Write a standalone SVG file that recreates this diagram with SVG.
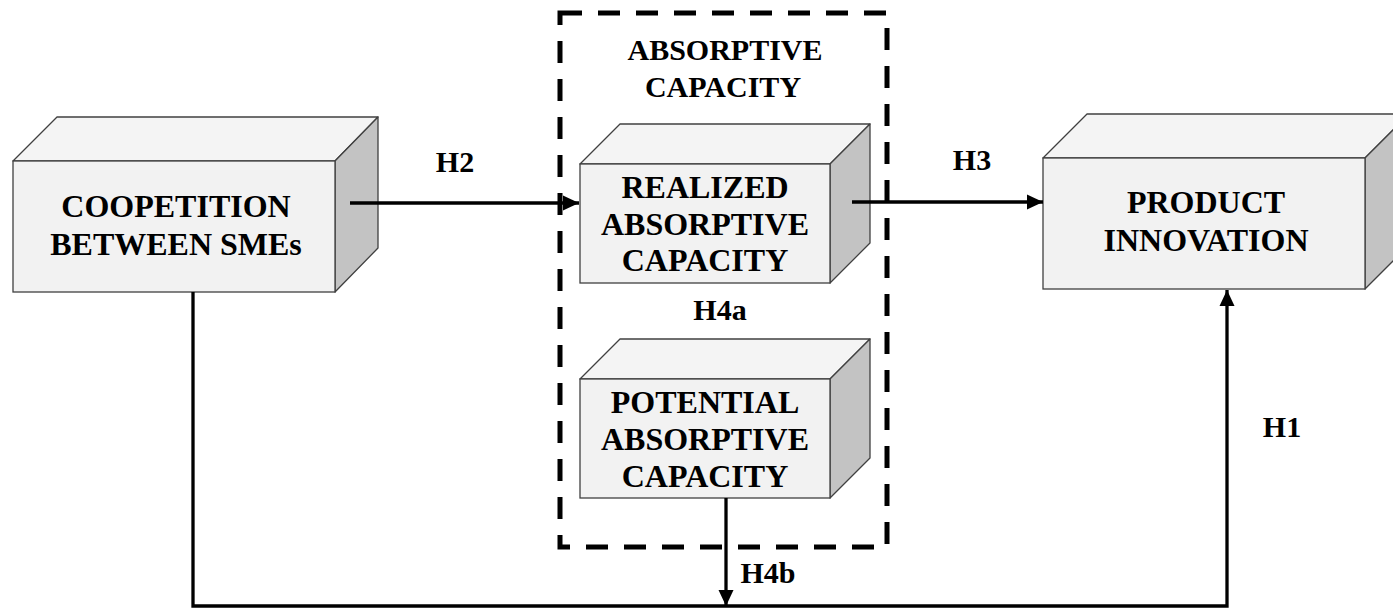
<svg xmlns="http://www.w3.org/2000/svg" width="1393" height="608" viewBox="0 0 1393 608">
<style>
.front{fill:#f2f2f2;stroke:#404040;stroke-width:1.3}
.top{fill:#f4f4f4;stroke:#404040;stroke-width:1.3;stroke-linejoin:round}
.side{fill:#c3c3c3;stroke:#404040;stroke-width:1.3;stroke-linejoin:round}
.lbl{font-family:"Liberation Serif","Times New Roman",serif;font-weight:bold;font-size:32px;fill:#000;text-anchor:middle}
.h{font-family:"Liberation Serif","Times New Roman",serif;font-weight:bold;font-size:30px;fill:#000;text-anchor:middle}
.conn{fill:none;stroke:#000;stroke-width:3.3}
</style>
<defs>
<marker id="arr" markerUnits="userSpaceOnUse" markerWidth="18" markerHeight="16" refX="16" refY="8" orient="auto">
<path d="M0,0.5 L16,8 L0,15.5 Z" fill="#000"/>
</marker>
</defs>
<rect width="1393" height="608" fill="#fff"/>
<g id="absorptive-capacity">
<rect x="560" y="13" width="327" height="534" fill="none" stroke="#000" stroke-width="5" stroke-dasharray="22 16"/>
<text class="h" x="725" y="60" font-size="29">ABSORPTIVE</text>
<text class="h" x="723" y="97" font-size="29">CAPACITY</text>
</g>
<g id="coopetition">
<polygon class="top" points="13,161 57,117 378,117 335,161"/>
<polygon class="side" points="335,161 378,117 378,248 335,292"/>
<rect class="front" x="13" y="161" width="322" height="131"/>
<text class="lbl" x="176" y="217">COOPETITION</text>
<text class="lbl" x="176" y="255">BETWEEN SMEs</text>
</g>
<g id="realized">
<polygon class="top" points="580,164 620,124 870,124 830,164"/>
<polygon class="side" points="830,164 870,124 870,243 830,283"/>
<rect class="front" x="580" y="164" width="250" height="119"/>
<text class="lbl" x="705" y="198">REALIZED</text>
<text class="lbl" x="705" y="235">ABSORPTIVE</text>
<text class="lbl" x="705" y="271">CAPACITY</text>
</g>
<g id="potential">
<polygon class="top" points="580,379 620,339 870,339 830,379"/>
<polygon class="side" points="830,379 870,339 870,458 830,498"/>
<rect class="front" x="580" y="379" width="250" height="119"/>
<text class="lbl" x="705" y="413">POTENTIAL</text>
<text class="lbl" x="705" y="450">ABSORPTIVE</text>
<text class="lbl" x="705" y="487">CAPACITY</text>
</g>
<g id="product">
<polygon class="top" points="1043,158 1087,114 1409,114 1365,158"/>
<polygon class="side" points="1365,158 1409,114 1409,245 1365,289"/>
<rect class="front" x="1043" y="158" width="322" height="131"/>
<text class="lbl" x="1206" y="213">PRODUCT</text>
<text class="lbl" x="1206" y="251">INNOVATION</text>
</g>
<g id="connectors">
<line class="conn" x1="350" y1="203" x2="579" y2="203" marker-end="url(#arr)"/>
<line class="conn" x1="852" y1="202" x2="1043" y2="202" marker-end="url(#arr)"/>
<polyline class="conn" points="193,292 193,606 1227,606 1227,290" marker-end="url(#arr)"/>
<line class="conn" x1="726" y1="498" x2="726" y2="606" marker-end="url(#arr)"/>
</g>
<g id="labels">
<text class="h" x="455" y="172">H2</text>
<text class="h" x="972" y="170">H3</text>
<text class="h" x="720" y="320">H4a</text>
<text class="h" x="768" y="583">H4b</text>
<text class="h" x="1282" y="437">H1</text>
</g>
</svg>
